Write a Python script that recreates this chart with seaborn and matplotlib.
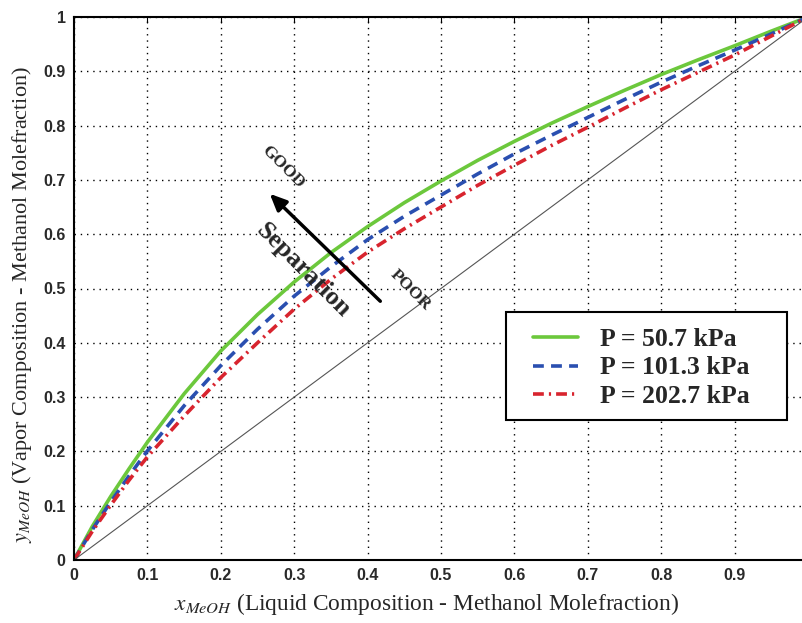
import numpy as np
import pandas as pd
import matplotlib
matplotlib.use("Agg")
import matplotlib.pyplot as plt
from matplotlib.patches import Rectangle
import seaborn as sns

# Methanol-water vapor-liquid equilibrium curves at three pressures
x_meoh = [0.0, 0.025, 0.05, 0.075, 0.10, 0.15, 0.20, 0.25, 0.30, 0.35, 0.40, 0.45,
          0.50, 0.55, 0.60, 0.65, 0.70, 0.75, 0.80, 0.85, 0.90, 0.95, 1.0]
y_507 = [0.0, 0.062, 0.117, 0.168, 0.217, 0.306, 0.385, 0.452, 0.512, 0.566, 0.614, 0.658,
         0.698, 0.736, 0.771, 0.804, 0.835, 0.865, 0.894, 0.921, 0.947, 0.974, 1.0]
y_1013 = [0.0, 0.056, 0.107, 0.155, 0.201, 0.284, 0.358, 0.425, 0.486, 0.540, 0.590, 0.633,
          0.672, 0.711, 0.748, 0.782, 0.815, 0.848, 0.880, 0.910, 0.939, 0.969, 1.0]
y_2027 = [0.0, 0.053, 0.101, 0.147, 0.190, 0.265, 0.336, 0.400, 0.462, 0.517, 0.567, 0.610,
          0.650, 0.690, 0.727, 0.763, 0.797, 0.832, 0.866, 0.898, 0.930, 0.965, 1.0]
labels = ["P = 50.7 kPa", "P = 101.3 kPa", "P = 202.7 kPa"]

n = len(x_meoh)
df = pd.DataFrame({
    "x": x_meoh * 3,
    "y": y_507 + y_1013 + y_2027,
    "series": [labels[0]] * n + [labels[1]] * n + [labels[2]] * n,
})

sns.set_style("white")
plt.rcParams["font.family"] = ["Liberation Sans", "DejaVu Sans"]
plt.rcParams["mathtext.fontset"] = "stix"

fig = plt.figure(figsize=(8.02, 6.23), dpi=100)
ax = fig.add_axes([74 / 802, 63 / 623, 734 / 802, 543 / 623])

palette = {labels[0]: "#6cc83c", labels[1]: "#2a4fb0", labels[2]: "#d8242e"}
for lab in labels:
    sub = df[df["series"] == lab]
    sns.lineplot(data=sub, x="x", y="y", ax=ax, color=palette[lab], lw=2.6,
                 label=lab, estimator=None, sort=True)
line_objs = ax.get_lines()
line_objs[1].set_dashes([3.0, 2.0])
line_objs[2].set_dashes([3.0, 1.4, 0.6, 1.4])

# y = x reference diagonal
ax.plot([0, 1], [0, 1], color="#555555", lw=0.8)

ax.set_xlim(0, 1)
ax.set_ylim(0, 1)
ticks = [0, 0.1, 0.2, 0.3, 0.4, 0.5, 0.6, 0.7, 0.8, 0.9, 1]
tick_labels = ["0", "0.1", "0.2", "0.3", "0.4", "0.5", "0.6", "0.7", "0.8", "0.9", "1"]
ax.set_xticks(ticks[:-1])
ax.set_xticklabels(tick_labels[:-1])
ax.set_yticks(ticks)
ax.set_yticklabels(tick_labels)
ax.tick_params(direction="in", top=True, right=True, length=4, width=0.8,
               labelsize=11.5, colors="black", pad=6)
for t in ax.get_xticklabels() + ax.get_yticklabels():
    t.set_fontweight("bold")
    t.set_color("#2a2a2a")
ax.grid(True, color="black", linestyle=(0, (1, 3.5)), lw=1.0)
for s in ax.spines.values():
    s.set_color("black")
    s.set_linewidth(1.5)

ax.set_xlabel(r"$x_{MeOH}$ (Liquid Composition - Methanol Molefraction)",
              family="Liberation Serif", fontsize=16.8)
ax.set_ylabel(r"$y_{MeOH}$ (Vapor Composition - Methanol Molefraction)",
              family="Liberation Serif", fontsize=16)
ax.xaxis.set_label_coords(0.48, -0.058)
ax.yaxis.set_label_coords(-0.055, 0.47)

# Legend: boxed entries in the lower right region
ax.add_patch(Rectangle((0.5886, 0.2578), 0.3828, 0.1989, transform=ax.transAxes,
                       facecolor="white", edgecolor="black", lw=1.5, zorder=5))
leg = ax.legend(loc="center left", bbox_to_anchor=(0.6253, 0.3536),
                frameon=False,
                prop={"family": "Liberation Serif", "weight": "bold", "size": 18.5},
                handlelength=1.75, borderpad=0, labelspacing=0.21, handletextpad=0.86,
                borderaxespad=0)
leg.set_zorder(6)

# Separation quality arrow and labels
ax.annotate("", xy=(0.264, 0.678), xytext=(0.42, 0.473),
            arrowprops=dict(arrowstyle="-|>,head_length=1.0,head_width=0.45",
                            color="black", lw=2.5))
ax.text(0.285, 0.724, "GOOD", rotation=-45, ha="center", va="center",
        family="Liberation Serif", fontweight="bold", fontsize=12.5)
ax.text(0.312, 0.534, "Separation", rotation=-45, ha="center", va="center",
        family="Liberation Serif", fontweight="bold", fontsize=19)
ax.text(0.458, 0.497, "POOR", rotation=-45, ha="center", va="center",
        family="Liberation Serif", fontweight="bold", fontsize=12.5)

fig.savefig("out.png", dpi=100)
